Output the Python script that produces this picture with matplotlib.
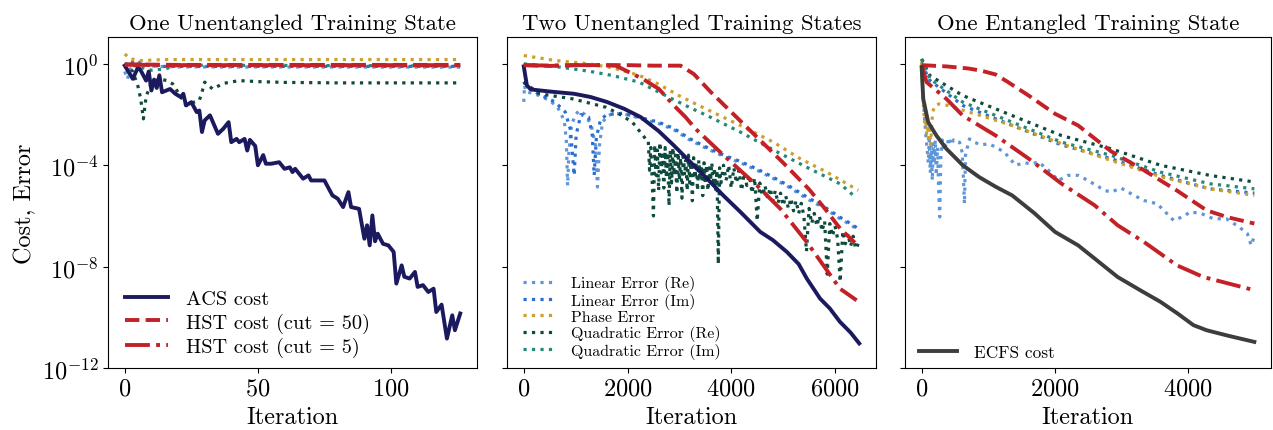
import numpy as np
import matplotlib
matplotlib.use('Agg')
import matplotlib.pyplot as plt
from matplotlib.ticker import NullLocator

plt.rcParams['font.family'] = 'cmr10'
plt.rcParams['mathtext.fontset'] = 'cm'
plt.rcParams['axes.formatter.use_mathtext'] = True
plt.rcParams['axes.unicode_minus'] = False

# values are stored as log10 of cost / error
# ---- panel 1: one unentangled training state ----
acs1_it = [0, 3, 5, 6, 8, 9, 10, 11, 12, 13, 14, 17, 19, 21, 22, 23, 25, 27,
           28, 29, 30, 32, 35, 37, 39, 40, 42, 43, 45, 46, 47, 49, 50, 52, 53,
           55, 58, 60, 62, 63, 64, 67, 69, 70, 75, 76, 78, 80, 82, 84, 85, 88,
           90, 91, 92, 93, 94, 95, 97, 99, 101, 102, 104, 105, 107, 109, 110,
           112, 114, 116, 117, 119, 121, 123, 124, 126]
acs1 = [-0.07, -0.59, -0.13, -0.26, -0.66, -0.3, -1.05, -0.62, -0.95, -0.45,
        -1.12, -0.99, -1.18, -1.31, -1.18, -1.64, -1.51, -1.9, -1.84, -2.69,
        -2.23, -2.03, -2.76, -2.56, -2.3, -3.09, -2.96, -3.09, -2.96, -3.42,
        -3.0, -3.24, -4.0, -3.6, -3.94, -3.94, -3.88, -4.14, -4.08, -4.27,
        -4.14, -4.53, -4.4, -4.6, -4.6, -4.8, -5.19, -5.32, -5.65, -5.06,
        -5.65, -5.72, -6.9, -6.37, -7.16, -5.98, -7.0, -6.7, -7.1, -7.16,
        -7.42, -8.67, -7.95, -8.4, -8.47, -8.21, -8.8, -8.73, -9.0, -8.87,
        -9.79, -9.5, -10.84, -9.92, -10.51, -9.85]
hst50_1_it = [0, 20, 40, 60, 80, 100, 126]
hst50_1 = [-0.02, -0.04, -0.04, -0.04, -0.04, -0.04, -0.04]
hst5_1_it = [0, 20, 40, 60, 80, 100, 126]
hst5_1 = [-0.03, -0.05, -0.05, -0.05, -0.05, -0.05, -0.05]
lre1_it = [0, 1, 2, 3, 5, 8, 12, 20, 126]
lre1 = [-0.3, -0.6, -0.2, -0.1, 0.0, -0.05, -0.1, -0.12, -0.13]
lim1_it = [0, 1, 2, 4, 6, 9, 14, 20, 126]
lim1 = [-0.1, 0.05, 0.1, 0.0, 0.08, -0.05, -0.1, -0.1, -0.1]
ph1_it = [0, 2, 6, 15, 40, 126]
ph1 = [0.39, 0.2, 0.13, 0.17, 0.17, 0.17]
qre1_it = [0, 3, 5, 6, 7, 8, 10, 13, 16, 18, 20, 23, 26, 28, 29, 30, 33, 37,
           43, 50, 60, 80, 100, 126]
qre1 = [0.0, -0.3, -0.9, -1.4, -2.17, -1.3, -0.72, -0.6, -0.66, -0.79,
        -1.12, -1.64, -1.51, -1.44, -1.12, -0.72, -0.99, -0.77, -0.66, -0.7,
        -0.73, -0.75, -0.75, -0.75]
qim1_it = [0, 5, 10, 15, 20, 126]
qim1 = [0.0, -0.1, -0.25, -0.2, -0.05, -0.08]

# ---- panel 2: two unentangled training states ----
acs2_it = [0, 60, 140, 500, 972, 1293, 1600, 1933, 2254, 2600, 2894, 3200,
           3535, 3850, 4175, 4559, 4800, 5072, 5300, 5456, 5712, 5900, 6096,
           6300, 6467]
acs2 = [-0.1, -0.85, -1.01, -1.09, -1.18, -1.31, -1.5, -1.77, -2.1, -2.65,
        -3.22, -3.85, -4.53, -5.2, -5.84, -6.63, -6.95, -7.42, -7.9, -8.47,
        -9.26, -9.65, -10.18, -10.6, -11.03]
hst50_2_it = [0, 500, 1000, 1500, 2000, 2500, 3022, 3278, 3600, 4000, 4500,
              5000, 5500, 5800, 6100, 6467]
hst50_2 = [-0.05, -0.08, -0.05, -0.05, -0.05, -0.07, -0.07, -0.4, -1.1, -1.9,
           -2.9, -3.9, -4.95, -5.7, -6.5, -7.22]
hst5_2_it = [0, 500, 1000, 1500, 1773, 1965, 2300, 2605, 2894, 3118, 3310,
             3854, 4496, 4943, 5456, 5776, 6096, 6417]
hst5_2 = [-0.05, -0.07, -0.05, -0.05, -0.07, -0.26, -0.6, -0.99, -1.64, -2.1,
          -2.56, -3.61, -4.8, -5.71, -7.03, -7.95, -8.87, -9.33]
ph2_it = [0, 620, 1261, 1700, 2221, 2600, 2989, 3374, 4175, 4815, 5327, 5841,
          6448]
ph2 = [0.33, 0.13, 0.0, -0.15, -0.45, -0.8, -1.25, -1.64, -2.43, -3.09,
       -3.74, -4.27, -4.99]
qim2_it = [0, 600, 1261, 1710, 2221, 2862, 3247, 3535, 4175, 4815, 5456,
           6096, 6390]
qim2 = [0.0, -0.1, -0.29, -0.46, -0.72, -1.38, -1.77, -2.04, -2.69, -3.4,
        -4.08, -4.73, -5.25]
lre2_it = [0, 15, 40, 150, 300, 500, 653, 780, 820, 845, 870, 920, 1000,
           1068, 1180, 1300, 1380, 1421, 1460, 1518, 1620, 1710, 1902, 2100,
           2254, 2600, 2894, 3200, 3535, 3854, 4175, 4500, 4815, 5100, 5456,
           5800, 6096, 6300, 6448]
lre2 = [-1.5, -0.85, -1.1, -1.15, -1.25, -1.45, -1.71, -2.23, -3.0, -4.8,
        -3.5, -2.4, -2.0, -1.84, -2.0, -2.4, -3.2, -4.86, -3.2, -2.3, -2.05,
        -1.97, -1.97, -2.05, -2.17, -2.35, -2.6, -3.0, -3.35, -3.65, -3.9,
        -4.2, -4.53, -4.85, -5.32, -5.7, -6.11, -6.35, -6.55]
lim2_it = [0, 50, 300, 600, 800, 900, 972, 1010, 1100, 1250, 1320, 1357,
           1400, 1480, 1600, 1900, 2254, 2600, 2894, 3200, 3535, 3854, 4175,
           4500, 4815, 5100, 5456, 5800, 6096, 6300, 6448]
lim2 = [-0.7, -0.9, -1.2, -1.5, -1.9, -2.6, -4.4, -2.8, -2.0, -2.1, -2.8,
        -4.4, -2.9, -2.2, -2.0, -1.95, -2.12, -2.3, -2.55, -2.95, -3.3, -3.6,
        -3.85, -4.15, -4.48, -4.8, -5.25, -5.65, -6.05, -6.3, -6.5]
qre2_it = [0, 300, 941, 1581, 1837, 2094, 2350,
           2400, 2425, 2450, 2475, 2500, 2525, 2550, 2575, 2600, 2625, 2650,
           2675, 2700, 2725, 2750, 2775, 2800, 2825, 2850, 2875, 2900, 2925,
           2950, 2975, 3000, 3025, 3050, 3075, 3100, 3125, 3150, 3175, 3200,
           3225, 3250, 3275, 3300, 3325, 3350, 3375, 3400, 3425, 3450, 3475,
           3500, 3525, 3550, 3575, 3600, 3625, 3650, 3675, 3700, 3725, 3750,
           3775, 3800,
           3850, 3900, 3950, 4000, 4050, 4100, 4150, 4200, 4250, 4300, 4350,
           4400, 4450, 4500, 4550, 4600, 4650, 4700, 4750, 4800, 4850, 4900,
           4950, 5000, 5050, 5100, 5150, 5200, 5250, 5300, 5350, 5400, 5450,
           5500, 5550, 5600, 5650, 5700, 5750, 5800, 5850, 5900, 5950, 6000,
           6050, 6100, 6150, 6200, 6250, 6300, 6350, 6400, 6450]
qre2 = [-0.72, -1.18, -1.38, -1.71, -1.97, -2.3, -2.96,
        -3.0, -4.2, -3.3, -4.6, -6.0, -3.2, -4.4, -3.4, -5.0, -3.1, -4.3,
        -3.6, -4.9, -3.3, -4.5, -3.5, -5.6, -3.4, -4.7, -3.3, -4.4, -3.6,
        -5.1, -3.5, -4.6, -3.7, -5.3, -3.5, -4.4, -3.8, -5.0, -3.6, -4.7,
        -3.9, -5.4, -3.7, -4.5, -3.9, -5.0, -3.8, -4.6, -4.0, -5.2, -3.9,
        -4.7, -4.0, -5.0, -4.1, -4.6, -3.9, -4.8, -4.1, -5.0, -4.2, -7.9,
        -4.1, -4.7,
        -4.0, -4.6, -4.0, -4.9, -4.1, -4.7, -4.2, -5.0, -4.3, -4.8, -4.4,
        -5.1, -4.5, -6.2, -4.7, -5.2, -4.8, -5.3, -4.9, -5.4, -5.0, -5.5,
        -5.1, -5.6, -5.2, -5.7, -5.3, -5.8, -5.4, -5.9, -5.5, -6.0, -7.4,
        -5.7, -6.3, -5.9, -6.4, -6.0, -6.6, -6.2, -8.3, -6.3, -6.8, -6.4,
        -6.9, -8.6, -6.6, -7.1, -6.7, -7.2, -6.8, -7.3, -7.1]

# ---- panel 3: one entangled training state ----
ecfs3_it = [0, 24, 98, 223, 372, 619, 867, 1115, 1362, 1700, 2007, 2354,
            2602, 2949, 3300, 3593, 3850, 4089, 4287, 4600, 5005]
ecfs3 = [-0.13, -1.38, -2.3, -2.83, -3.35, -4.0, -4.47, -4.85, -5.19, -5.9,
         -6.63, -7.16, -7.68, -8.41, -8.95, -9.39, -9.85, -10.31, -10.51,
         -10.72, -10.97]
hst50_3_it = [0, 372, 700, 900, 1115, 1300, 1610, 2007, 2354, 2849, 3346,
              3841, 4287, 4600, 5005]
hst50_3 = [-0.05, -0.1, -0.18, -0.27, -0.42, -0.72, -1.25, -1.97, -2.43,
           -3.45, -4.2, -5.0, -5.78, -6.05, -6.3]
hst5_3_it = [0, 74, 372, 619, 1115, 1610, 2106, 2602, 2949, 3346, 3841,
             4238, 5005]
hst5_3 = [-0.05, -0.72, -1.38, -2.04, -2.83, -3.74, -4.73, -5.58, -6.37,
          -7.03, -7.95, -8.41, -8.93]
qre3_it = [0, 123, 619, 1362, 2106, 2849, 3593, 4336, 5005]
qre3 = [0.2, -0.46, -1.25, -2.04, -2.83, -3.35, -4.0, -4.4, -4.66]
qim3_it = [0, 123, 619, 1362, 2106, 2849, 3593, 4336, 5005]
qim3 = [0.17, -0.59, -1.51, -2.3, -3.09, -3.61, -4.27, -4.73, -4.93]
lim3_it = [0, 123, 619, 1362, 2106, 2849, 3593, 4336, 5005]
lim3 = [0.0, -0.65, -1.64, -2.43, -3.2, -3.74, -4.4, -4.93, -5.1]
ph3_it = [0, 15, 30, 45, 60, 75, 90, 105, 120, 135, 150, 165, 200, 260, 400,
          545, 892, 1362, 2106, 2849, 3593, 4336, 5005]
ph3 = [0.07, -1.0, -1.8, -2.3, -2.0, -2.8, -2.4, -3.1, -2.6, -3.2, -2.5,
       -1.9, -1.65, -1.58, -1.64, -1.77, -2.04, -2.43, -3.15, -3.81, -4.45,
       -4.93, -5.19]
lre3_it = [0, 20, 40, 60, 80, 100, 115, 130, 145, 160, 175, 190, 205, 220,
           240, 255, 272, 290, 310, 330, 350, 380, 410, 440, 480, 520, 570,
           610, 630, 644, 660, 718, 800, 900, 1000, 1115, 1250, 1413, 1550,
           1650, 1759, 1908, 2056, 2200, 2354, 2503, 2751, 2849, 3000, 3197,
           3346, 3543, 3792, 3950, 4039, 4200, 4387, 4584, 4778, 4900, 4957,
           5005]
lre3 = [-0.1, -1.2, -2.0, -2.7, -3.3, -3.9, -3.0, -4.3, -3.2, -4.6, -3.1,
        -3.8, -3.0, -4.4, -3.3, -4.9, -6.04, -3.6, -3.0, -3.4, -3.2, -3.3,
        -2.9, -3.2, -3.0, -3.1, -3.09, -3.5, -4.6, -5.52, -3.6, -2.96, -3.1,
        -3.2, -3.15, -3.28, -3.5, -4.0, -3.9, -3.95, -3.87, -4.2, -4.6, -4.4,
        -4.4, -4.6, -4.99, -5.06, -4.9, -5.19, -5.39, -5.52, -6.18, -6.0,
        -5.84, -5.9, -6.11, -6.11, -6.44, -6.7, -7.16, -6.8]

C_ACS = '#1c1a5e'
C_HST = '#c42127'
C_LRE = '#5f96d8'
C_LIM = '#2a6fd0'
C_PH = '#cc9f2e'
C_QRE = '#0e4a3d'
C_QIM = '#24887a'
C_ECFS = '#3d3d3d'

FS = 17.5
FS_TITLE = 16.4


def curve(ax, its, logs, **kw):
    ax.plot(its, 10.0 ** np.asarray(logs, dtype=float), **kw)


dot = dict(ls=':', lw=2.3)

fig = plt.figure(figsize=(12.73, 4.31), dpi=100)
bot, hgt = 62 / 431, 331 / 431
ax1 = fig.add_axes([108 / 1273, bot, 369 / 1273, hgt])
ax2 = fig.add_axes([507 / 1273, bot, 369 / 1273, hgt], sharey=ax1)
ax3 = fig.add_axes([905 / 1273, bot, 366 / 1273, hgt], sharey=ax1)

# panel 1
curve(ax1, lre1_it, lre1, color=C_LRE, **dot)
curve(ax1, lim1_it, lim1, color=C_LIM, **dot)
curve(ax1, ph1_it, ph1, color=C_PH, **dot)
curve(ax1, qre1_it, qre1, color=C_QRE, **dot)
curve(ax1, qim1_it, qim1, color=C_QIM, **dot)
curve(ax1, acs1_it, acs1, color=C_ACS, lw=2.8, label='ACS cost')
curve(ax1, hst50_1_it, hst50_1, color=C_HST, lw=2.8, ls='--',
      label='HST cost (cut = 50)')
curve(ax1, hst5_1_it, hst5_1, color=C_HST, lw=2.8, ls='-.',
      label='HST cost (cut = 5)')
ax1.legend(loc='lower left', bbox_to_anchor=(0.024, 0.009), fontsize=14.7,
           frameon=False, handlelength=2.1, labelspacing=0.2,
           borderaxespad=0.0, handletextpad=0.9)
ax1.set_title('One Unentangled Training State', fontsize=FS_TITLE)
ax1.set_ylabel('Cost, Error', fontsize=FS)
ax1.set_xticks([0, 50, 100])

# panel 2
curve(ax2, lre2_it, lre2, color=C_LRE, label='Linear Error (Re)', **dot)
curve(ax2, lim2_it, lim2, color=C_LIM, label='Linear Error (Im)', **dot)
curve(ax2, ph2_it, ph2, color=C_PH, label='Phase Error', **dot)
curve(ax2, qre2_it, qre2, color=C_QRE, label='Quadratic Error (Re)', **dot)
curve(ax2, qim2_it, qim2, color=C_QIM, label='Quadratic Error (Im)', **dot)
curve(ax2, acs2_it, acs2, color=C_ACS, lw=2.8)
curve(ax2, hst50_2_it, hst50_2, color=C_HST, lw=2.8, ls='--')
curve(ax2, hst5_2_it, hst5_2, color=C_HST, lw=2.8, ls='-.')
ax2.legend(loc='lower left', bbox_to_anchor=(0.025, 0.009), fontsize=11.5,
           frameon=False, handlelength=2.0, labelspacing=0.08,
           borderaxespad=0.0, handletextpad=1.0)
ax2.set_title('Two Unentangled Training States', fontsize=FS_TITLE)
ax2.set_xticks([0, 2000, 4000, 6000])

# panel 3
curve(ax3, lre3_it, lre3, color=C_LRE, **dot)
curve(ax3, lim3_it, lim3, color=C_LIM, **dot)
curve(ax3, ph3_it, ph3, color=C_PH, **dot)
curve(ax3, qre3_it, qre3, color=C_QRE, **dot)
curve(ax3, qim3_it, qim3, color=C_QIM, **dot)
curve(ax3, hst50_3_it, hst50_3, color=C_HST, lw=2.8, ls='--')
curve(ax3, hst5_3_it, hst5_3, color=C_HST, lw=2.8, ls='-.')
curve(ax3, ecfs3_it, ecfs3, color=C_ECFS, lw=2.8, label='ECFS cost')
ax3.legend(loc='lower left', bbox_to_anchor=(0.019, 0.0045), fontsize=12.4,
           frameon=False, handlelength=2.2, borderaxespad=0.0,
           handletextpad=1.0)
ax3.set_title('One Entangled Training State', fontsize=FS_TITLE)
ax3.set_xticks([0, 2000, 4000])

for ax in (ax1, ax2, ax3):
    ax.set_yscale('log')
    ax.set_xlabel('Iteration', fontsize=FS)
    ax.tick_params(labelsize=FS)
for ax in (ax2, ax3):
    ax.tick_params(labelleft=False)

ax1.set_ylim(1e-12, 11.5)
ax1.set_yticks([1e0, 1e-4, 1e-8, 1e-12])
ax1.yaxis.set_minor_locator(NullLocator())

fig.savefig('out.png', dpi=100)
